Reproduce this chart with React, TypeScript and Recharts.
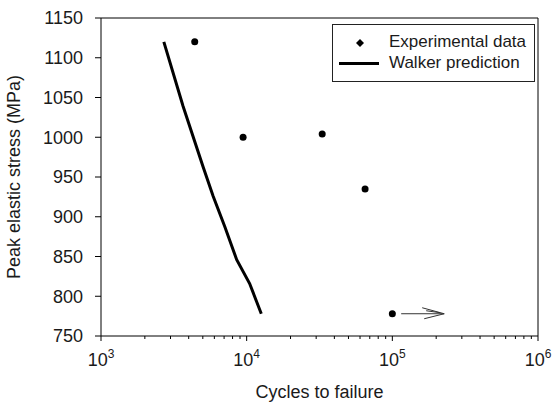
import React from "react";
import {
  ComposedChart,
  Scatter,
  XAxis,
  YAxis,
  ReferenceLine,
} from "recharts";

// experimental fatigue data (cycles, MPa)
const expCycles = [4400, 9450, 33000, 65000, 100000];
const expStress = [1120, 1000, 1004, 935, 778];

// Walker prediction curve
const walkerCycles = [2700, 3660, 5020, 5880, 7060, 8540, 10480, 12600];
const walkerStress = [1120, 1039, 963, 926, 888, 846, 816, 778];

// run-out arrow on the last specimen
const runoutFrom = 115000;
const runoutTo = 227000;
const runoutStress = 778;

const xTicks = [
  1000, 2000, 3000, 4000, 5000, 6000, 7000, 8000, 9000,
  10000, 20000, 30000, 40000, 50000, 60000, 70000, 80000, 90000,
  100000, 200000, 300000, 400000, 500000, 600000, 700000, 800000, 900000,
  1000000,
];
const yTicks = [750, 800, 850, 900, 950, 1000, 1050, 1100, 1150];

const expData = expCycles.map((x, i) => ({ x, y: expStress[i] }));
const walkerData = walkerCycles.map((x, i) => ({ x, y: walkerStress[i] }));

const FONT = '"Liberation Sans", Arial, sans-serif';
const TEXT = "#1a1a1a";

function XTick(props: any) {
  const { x, y, payload } = props;
  const lg = Math.log10(payload.value);
  const exp = Math.round(lg);
  const major = Math.abs(lg - exp) < 1e-6;
  return (
    <g>
      <line x1={x} x2={x} y1={y} y2={y + (major ? 5 : 3)} stroke="#000" />
      {major && (
        <text x={x} y={y + 30} textAnchor="middle" fontSize={18} fontFamily={FONT} fill={TEXT}>
          10
          <tspan dy={-8} fontSize={12}>
            {exp}
          </tspan>
        </text>
      )}
    </g>
  );
}

function Dot(props: any) {
  const { cx, cy } = props;
  return <circle cx={cx} cy={cy} r={3.5} fill="#000" />;
}

function NoDot() {
  return <g />;
}

function RunoutArrow(props: any) {
  const { x1, y1, x2 } = props;
  if (x1 == null) return null;
  return (
    <g stroke="#333" strokeWidth={1} fill="none">
      <line x1={x1} y1={y1} x2={x2} y2={y1} />
      <polyline points={`${x2 - 22},${y1 - 6} ${x2},${y1} ${x2 - 20},${y1 + 5}`} />
      <line x1={x2 - 18} y1={y1 - 3} x2={x2 - 4} y2={y1 - 1} />
    </g>
  );
}

function LegendBox() {
  return (
    <div
      style={{
        position: "absolute",
        left: 332,
        top: 24,
        width: 203,
        height: 58,
        border: "1px solid #222",
        boxSizing: "border-box",
        background: "#fff",
        fontFamily: FONT,
        fontSize: 17,
        color: TEXT,
      }}
    >
      <svg width={60} height={55} style={{ position: "absolute", left: 0, top: 0 }}>
        <polygon points="27,14 31,18 27,22 23,18" fill="#000" />
        <line x1={6} x2={46} y1={38.5} y2={38.5} stroke="#000" strokeWidth={3} />
      </svg>
      <div style={{ position: "absolute", left: 56, top: 7, lineHeight: "20px" }}>
        Experimental data
      </div>
      <div style={{ position: "absolute", left: 56, top: 28, lineHeight: "20px" }}>
        Walker prediction
      </div>
    </div>
  );
}

export default function App() {
  return (
    <div style={{ position: "absolute", left: 0, top: 0, width: 560, height: 412, background: "#fff" }}>
      <ComposedChart
        width={560}
        height={412}
        margin={{ top: 18, right: 22, left: 0, bottom: 0 }}
      >
        <XAxis
          type="number"
          dataKey="x"
          scale="log"
          domain={[1000, 1000000]}
          ticks={xTicks}
          interval={0}
          allowDataOverflow
          height={76}
          stroke="#000"
          tickLine={false}
          tickSize={0}
          tickMargin={0}
          tick={<XTick />}
          label={{
            value: "Cycles to failure",
            position: "insideBottom",
            offset: 14,
            fontSize: 18,
            fontFamily: FONT,
            fill: TEXT,
          }}
        />
        <YAxis
          type="number"
          dataKey="y"
          domain={[750, 1150]}
          ticks={yTicks}
          interval={0}
          allowDataOverflow
          width={101}
          stroke="#000"
          tickSize={6}
          tickMargin={12}
          tick={{ fontSize: 18, fontFamily: FONT, fill: TEXT }}
          label={{
            value: "Peak elastic stress (MPa)",
            angle: -90,
            position: "insideLeft",
            offset: 14,
            style: { textAnchor: "middle" },
            fontSize: 18,
            fontFamily: FONT,
            fill: TEXT,
          }}
        />
        <ReferenceLine y={1150} stroke="#000" ifOverflow="visible" />
        <ReferenceLine x={1000000} stroke="#000" ifOverflow="visible" />
        <ReferenceLine
          segment={[
            { x: runoutFrom, y: runoutStress },
            { x: runoutTo, y: runoutStress },
          ]}
          ifOverflow="visible"
          shape={<RunoutArrow />}
        />
        <Scatter
          name="Walker prediction"
          data={walkerData}
          line={{ stroke: "#000", strokeWidth: 3 }}
          lineType="joint"
          shape={<NoDot />}
          isAnimationActive={false}
        />
        <Scatter
          name="Experimental data"
          data={expData}
          shape={<Dot />}
          isAnimationActive={false}
        />
      </ComposedChart>
      <LegendBox />
    </div>
  );
}
